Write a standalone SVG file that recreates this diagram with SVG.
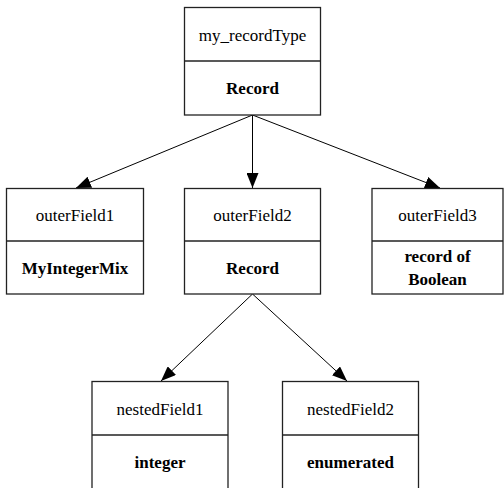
<svg xmlns="http://www.w3.org/2000/svg" width="504" height="488" viewBox="0 0 504 488">
<defs>
<style>
.box{fill:#fff;stroke:#222;stroke-width:1.3}
.div{stroke:#222;stroke-width:1.3}
.t{font-family:'Liberation Serif','Times New Roman','DejaVu Serif',serif;font-size:17px;fill:#000;text-anchor:middle}
.b{font-weight:bold}
.edge{stroke:#000;stroke-width:1;fill:none;marker-end:url(#arr)}
</style>
<marker id="arr" markerUnits="userSpaceOnUse" markerWidth="16" markerHeight="12" refX="15" refY="6" orient="auto">
<path d="M0,0 L15,6 L0,12 Z" fill="#000"/>
</marker>
</defs>
<rect width="504" height="488" fill="#fff"/>
<g id="connectors">
<line class="edge" x1="252.5" y1="115" x2="76" y2="188"/>
<line class="edge" x1="252.5" y1="115" x2="252.5" y2="188"/>
<line class="edge" x1="252.5" y1="115" x2="440" y2="188"/>
<line class="edge" x1="252.5" y1="294" x2="161" y2="381"/>
<line class="edge" x1="252.5" y1="294" x2="347" y2="381"/>
</g>
<g id="my_recordType">
<rect class="box" x="184.5" y="7.5" width="136" height="107.5"/>
<line class="div" x1="184.5" y1="61" x2="320.5" y2="61"/>
<text class="t" font-family="Liberation Serif, serif" x="252.5" y="41">my_recordType</text>
<text class="t b" font-family="Liberation Serif, serif" x="252.5" y="94">Record</text>
</g>
<g id="outerField1">
<rect class="box" x="6.5" y="188.5" width="137" height="105.5"/>
<line class="div" x1="6.5" y1="241" x2="143.5" y2="241"/>
<text class="t" x="75" y="221">outerField1</text>
<text class="t b" x="75" y="274">MyIntegerMix</text>
</g>
<g id="outerField2">
<rect class="box" x="184.5" y="188.5" width="136" height="105.5"/>
<line class="div" x1="184.5" y1="241" x2="320.5" y2="241"/>
<text class="t" x="252.5" y="221">outerField2</text>
<text class="t b" x="252.5" y="274">Record</text>
</g>
<g id="outerField3">
<rect class="box" x="372" y="188.5" width="131" height="105.5"/>
<line class="div" x1="372" y1="241" x2="503" y2="241"/>
<text class="t" x="437.5" y="221">outerField3</text>
<text class="t b" x="437.5" y="262">record of</text>
<text class="t b" x="437.5" y="285">Boolean</text>
</g>
<g id="nestedField1">
<rect class="box" x="92" y="381.5" width="136" height="110"/>
<line class="div" x1="92" y1="435" x2="228" y2="435"/>
<text class="t" x="160" y="415">nestedField1</text>
<text class="t b" x="160" y="468">integer</text>
</g>
<g id="nestedField2">
<rect class="box" x="282.5" y="381.5" width="136" height="110"/>
<line class="div" x1="282.5" y1="435" x2="418.5" y2="435"/>
<text class="t" x="350.5" y="415">nestedField2</text>
<text class="t b" x="350.5" y="468">enumerated</text>
</g>
</svg>
